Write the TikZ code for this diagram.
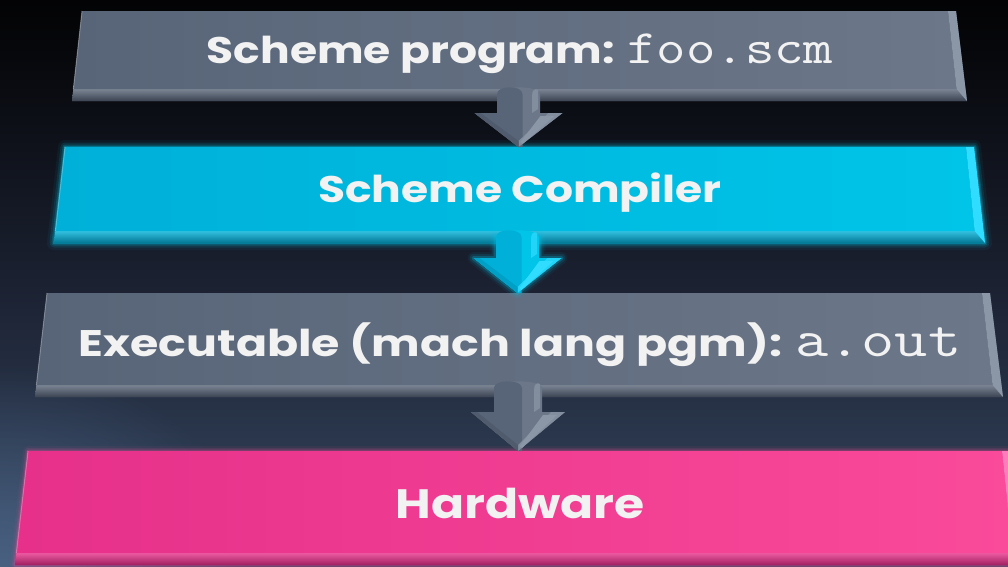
\documentclass[tikz,border=0pt]{standalone}
\usepackage{fontspec}
\setmainfont{Poppins}
\usetikzlibrary{calc,fadings}
\tikzfading[name=spotfade, inner color=transparent!0, outer color=transparent!100]
\definecolor{bgbot}{HTML}{3C4E6A}
\definecolor{bgm1}{HTML}{32425A}
\definecolor{bgm2}{HTML}{1B2131}
\definecolor{bgm3}{HTML}{07080C}
\definecolor{bgspot}{HTML}{5A78A0}
\definecolor{gryL}{HTML}{586578}
\definecolor{gryR}{HTML}{6C7789}
\definecolor{gryD}{HTML}{4A5466}
\definecolor{gryH}{HTML}{8B96A6}
\definecolor{cyaL}{HTML}{00B0D8}
\definecolor{cyaR}{HTML}{00C4E8}
\definecolor{cyaD}{HTML}{0094B8}
\definecolor{cyaH}{HTML}{30DCFF}
\definecolor{pnkL}{HTML}{E6308A}
\definecolor{pnkR}{HTML}{FA4A9A}
\definecolor{pnkD}{HTML}{C82678}
\definecolor{pnkH}{HTML}{FF7CBC}
\definecolor{txt}{HTML}{F2F2F2}
\pgfdeclareverticalshading{bgsh}{100bp}{color(0bp)=(bgbot); color(29bp)=(bgm1); color(50bp)=(bgm2); color(70bp)=(bgm3); color(78bp)=(black); color(100bp)=(black)}
\newcommand\monotxt[2]{{\mdseries\ttfamily\addfontfeatures{FakeBold=1.2}\fontsize{#1}{#1}\selectfont #2}}
\newcommand\widetxt[2][1.19]{\scalebox{#1}[1]{#2}}
\tikzset{
  bartext/.style={text=txt, font=\bfseries\fontsize{37}{40}\selectfont, anchor=base, inner sep=0},
  glowc/.style={draw=#1, line join=round},
}
% #1 name, #2 TLx, #3 TRx, #4 BLx, #5 BRx, #6 top, #7 bottom, #8 colour prefix
\newcommand\drawslab[8]{%
  \coordinate (#1tl) at (#2,#6);
  \coordinate (#1tr) at (#3,#6);
  \coordinate (#1bl) at (#4,#7);
  \coordinate (#1br) at (#5,#7);
  \coordinate (#1il) at ($(#1bl)!12pt!(#1tl)$);
  \coordinate (#1ir) at ($(#1br)!12pt!(#1tr)+(-9,0)$);
  \coordinate (#1itr) at ($(#1tr)+(-8,0)$);
  \fill[#8D] (#1tl)--(#1tr)--(#1br)--(#1bl)--cycle;
  \shade[top color=#8L!80!white, bottom color=#8D!80!black] (#1il)--(#1ir)--(#1br)--(#1bl)--cycle;
  \shade[left color=#8L, right color=#8R] (#1tl)--(#1itr)--(#1ir)--(#1il)--cycle;
  \fill[#8H] (#1itr)--(#1tr)--(#1br)--(#1ir)--cycle;
  \draw[white, opacity=0.3, line width=1] (#1tl)--(#1il);
}
% #1 name, #2 tip coordinate, #3 head half width, #4 head height, #5 shaft top, #6 shaft half width, #7 colour prefix
\newcommand\drawdownarrow[7]{%
  \coordinate (#1t) at (#2);
  \fill[#7R] (#1t) -- ++(-#3,-#4) -- ++(#3-#6,0) -- ++(0,-#5+#4)
      .. controls +(0,-9) and +(0,-9) .. ++(2*#6,0) -- ++(0,#5-#4) -- ++(#3-#6,0) -- cycle;
  \fill[#7L] (#1t) -- ++(-#3,-#4) -- ++(#3-#6,0) -- ++(0,-#5+#4)
      .. controls +(0,-9) and +(0,-9) .. ++(#6+4,0) -- ++(0,#5) -- cycle;
  \fill[#7H!70!#7R] (#1t) -- ++(#3,-#4) -- ++(-14,0) -- ++(-#3+14,#4-6) -- cycle;
  \fill[#7H] ($(#1t)+(#3-8,-#4+3)$) -- ++(-14,0) -- ++(-#3+24,#4-8) -- ++(2,2) -- cycle;
  \fill[#7H!70!#7R] ($(#1t)+(#6-8,-#4)$) -- ++(0,-#5+#4+2) .. controls +(0,-6) and +(-3,-2) .. ++(6,-6) -- ++(0,#5-#4) -- cycle;
  \fill[#7D!60!#7L] ($(#1t)+(-#3,-#4)$) -- ++(6,0) -- ($(#1t)+(0,-6)$) -- (#1t) -- cycle;
}
\begin{document}
\begin{tikzpicture}[x=1pt,y=-1pt]
\useasboundingbox (0,0) rectangle (1008,566);
\shade[shading=bgsh] (0,0) rectangle (1008,566);
\fill[bgspot, path fading=spotfade, opacity=0.55] (0,566) ellipse (260 and 200);

% bars
\drawslab{b1}{82}{956}{72}{967}{11}{101}{gry}
\foreach \w/\o in {14/0.06, 9/0.12, 5/0.2, 2/0.35}
  \draw[glowc=cyaR, line width=\w, opacity=\o] (65,147)--(974,147)--(985,243)--(54,243)--cycle;
\drawslab{b2}{65}{974}{54}{985}{147}{243}{cya}
\drawslab{b3}{47}{990}{35}{1003}{293}{397}{gry}
\foreach \w/\o in {10/0.06, 6/0.12, 3/0.25}
  \draw[glowc=pnkR, line width=\w, opacity=\o] (28,451)--(1010,451)--(1023,565)--(15,565)--cycle;
\drawslab{b4}{28}{1010}{15}{1023}{451}{565}{pnk}

% texts
\node[bartext] (t1) at (520,63) {\widetxt{Scheme program: \monotxt{48}{foo.scm}}};
\node[bartext] (t2) at (520,202) {\widetxt{Scheme Compiler}};
\node[bartext] (t3) at (520,356) {\widetxt[1.24]{Executable (mach lang pgm): \monotxt{52}{a.out}}};
\node[bartext, font=\bfseries\fontsize{41}{44}\selectfont] (t4) at (520,518) {\widetxt{Hardware}};

% arrows
\drawdownarrow{a1}{$(b2tl)!0.5!(b2tr)+(-1,0)$}{44}{34}{53}{21.5}{gry}
\foreach \w/\o in {12/0.06, 8/0.12, 4/0.25}
  \draw[glowc=cyaR, line width=\w, opacity=\o] ($(b3tl)!0.5!(b3tr)+(-1,0)$) -- ++(-44,-35) -- ++(22,0) -- ++(0,-21) -- ++(44,0) -- ++(0,21) -- ++(22,0) -- cycle;
\drawdownarrow{a2}{$(b3tl)!0.5!(b3tr)+(-1,0)$}{44}{35}{56}{21.5}{cya}
\drawdownarrow{a3}{$(b4tl)!0.5!(b4tr)+(-1,0)$}{47}{39}{63}{24}{gry}
\end{tikzpicture}
\end{document}
